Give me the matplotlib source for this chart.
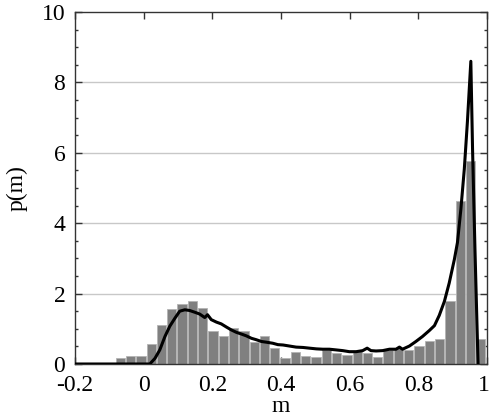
import matplotlib
matplotlib.use("Agg")
from matplotlib import pyplot as plt
from matplotlib.ticker import MultipleLocator
from matplotlib.transforms import ScaledTranslation

# histogram bins (centres) and heights
bin_centres = [-0.068, -0.038, -0.008, 0.022, 0.052, 0.082, 0.112, 0.142, 0.172,
               0.202, 0.232, 0.262, 0.292, 0.322, 0.352, 0.382, 0.412, 0.442,
               0.472, 0.502, 0.532, 0.562, 0.592, 0.622, 0.652, 0.682, 0.712,
               0.742, 0.772, 0.802, 0.832, 0.862, 0.892, 0.922, 0.952, 0.982]
bin_heights = [0.16, 0.23, 0.23, 0.57, 1.10, 1.57, 1.70, 1.80, 1.60,
               0.94, 0.80, 1.03, 0.94, 0.63, 0.80, 0.46, 0.18, 0.34,
               0.23, 0.20, 0.40, 0.30, 0.25, 0.38, 0.30, 0.20, 0.40,
               0.45, 0.40, 0.52, 0.64, 0.70, 1.80, 4.62, 5.76, 0.70]

# theory curve
curve_m = [-0.2, 0.018, 0.033, 0.047, 0.062, 0.076, 0.091, 0.105, 0.120, 0.134,
           0.149, 0.163, 0.178, 0.186, 0.197, 0.212, 0.226, 0.241, 0.255, 0.270,
           0.285, 0.299, 0.314, 0.328, 0.343, 0.357, 0.376, 0.391, 0.406, 0.425,
           0.444, 0.464, 0.483, 0.503, 0.522, 0.541, 0.561, 0.580, 0.599, 0.619,
           0.638, 0.651, 0.662, 0.677, 0.696, 0.716, 0.735, 0.745, 0.754, 0.774,
           0.793, 0.812, 0.832, 0.847, 0.861, 0.876, 0.890, 0.905, 0.914, 0.924,
           0.934, 0.943, 0.953, 0.958, 0.965, 0.974]
curve_p = [0.0, 0.0, 0.16, 0.40, 0.78, 1.07, 1.30, 1.50, 1.54, 1.52,
           1.47, 1.42, 1.32, 1.40, 1.26, 1.19, 1.14, 1.05, 0.97, 0.90,
           0.85, 0.80, 0.73, 0.69, 0.64, 0.62, 0.59, 0.55, 0.54, 0.51,
           0.48, 0.47, 0.45, 0.43, 0.42, 0.42, 0.40, 0.38, 0.35, 0.35,
           0.38, 0.45, 0.38, 0.37, 0.38, 0.42, 0.42, 0.48, 0.42, 0.51,
           0.64, 0.78, 0.95, 1.09, 1.38, 1.78, 2.30, 2.97, 3.45, 4.40,
           5.54, 6.88, 8.60, 6.10, 3.26, 0.0]

plt.rcParams["font.family"] = "serif"
plt.rcParams["font.serif"] = ["Liberation Serif", "DejaVu Serif"]
plt.rcParams["font.size"] = 16

fig = plt.figure(figsize=(4.91, 4.17), dpi=100)
ax = fig.add_axes([0.1527, 0.1271, 0.8391, 0.8441])

ax.bar(bin_centres, bin_heights, width=0.027, color="#808080",
       edgecolor="#b4b4b4", linewidth=0.6, zorder=2)
ax.plot(curve_m, curve_p, color="black", linewidth=2.2, zorder=3)

ax.set_xlim(-0.2, 1.0)
ax.set_ylim(0, 10)
ax.set_xticks([-0.2, 0, 0.2, 0.4, 0.6, 0.8, 1.0])
ax.set_xticklabels(["-0.2", "0", "0.2", "0.4", "0.6", "0.8", "1"])
ax.set_yticks([0, 2, 4, 6, 8, 10])
ax.set_yticklabels(["0", "2", "4", "6", "8", "10"])
ax.yaxis.set_minor_locator(MultipleLocator(0.5))

for y in [2, 4, 6, 8]:
    ax.axhline(y, color="#c8c8c8", linewidth=1.0, zorder=1)

ax.tick_params(which="both", direction="in", top=True, right=True,
               color="#333333", width=1.0)
ax.tick_params(which="major", length=5, labelsize=17)
ax.tick_params(axis="x", which="major", pad=8)
ax.tick_params(axis="y", which="major", pad=7)
ax.tick_params(which="minor", length=2.5)
for s in ax.spines.values():
    s.set_color("#333333")
    s.set_linewidth(1.0)

# last x label sits right at the figure edge; nudge it in a little
last = ax.get_xticklabels()[-1]
last.set_transform(last.get_transform() + ScaledTranslation(-3 / 100, 0, fig.dpi_scale_trans))

ax.set_xlabel("m", fontsize=17, labelpad=0)
ax.set_ylabel("p(m)", fontsize=17, labelpad=10)

fig.savefig("out.png", dpi=100)
